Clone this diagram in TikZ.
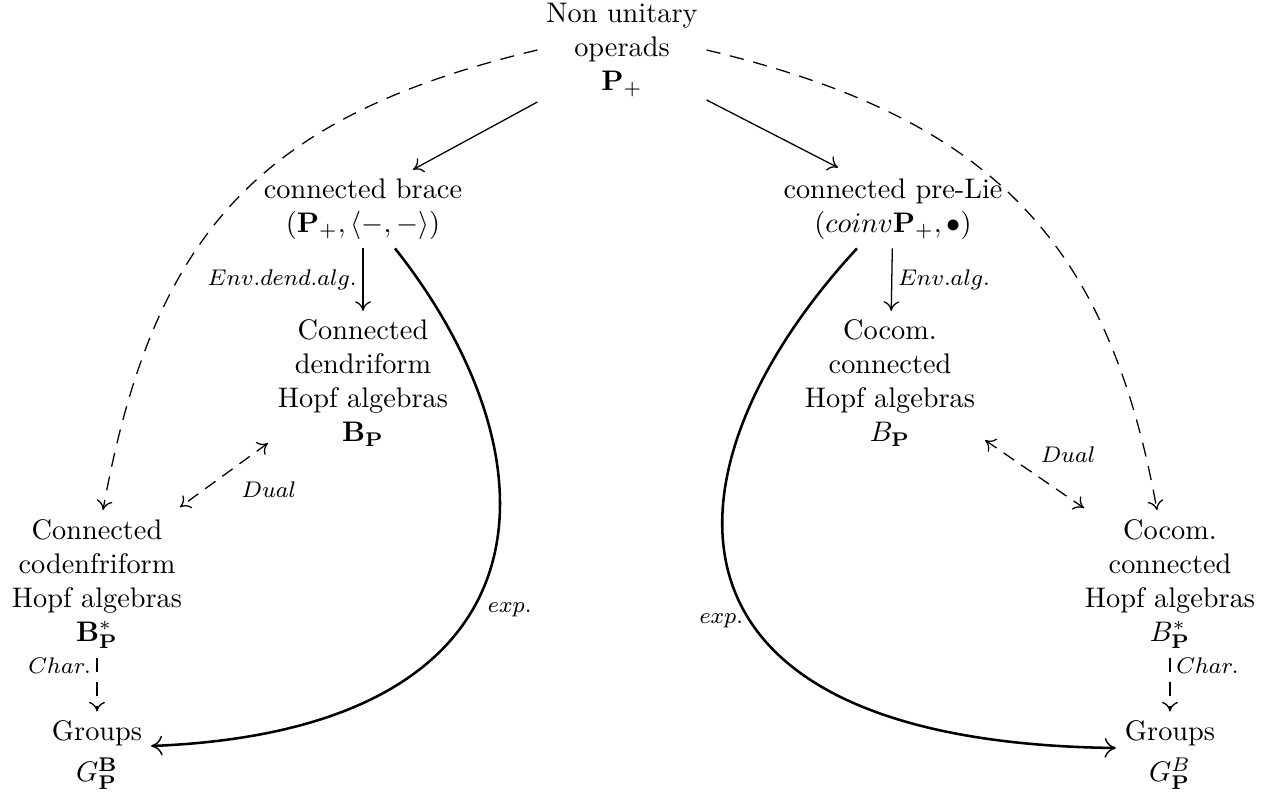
\documentclass[tikz,border=0pt]{standalone}
\usetikzlibrary{calc,arrows.meta}
\begin{document}
\begin{tikzpicture}[x=0.3533pt,y=-0.3533pt,
  >={To[length=3.4pt,width=5.6pt]},
  box/.style={align=center,inner sep=3pt},
  lab/.style={font=\footnotesize,inner sep=2pt},
  solarrow/.style={line width=0.45pt,->},
  dasharrow/.style={line width=0.45pt,->,dash pattern=on 5pt off 3.5pt},
  dualarrow/.style={line width=0.45pt,<->,dash pattern=on 4.5pt off 3pt},
  exparrow/.style={line width=0.9pt,-{To[line width=0.5pt,length=4pt,width=7pt]}}]
\useasboundingbox (0,0) rectangle (1272,793);
\node[box] (top) at (622,50) {Non unitary\\operads\\$\mathbf{P}_+$};
\node[box] (brace) at (363,209) {connected brace\\$(\mathbf{P}_+,\langle -,-\rangle)$};
\node[box] (prelie) at (893,209) {connected pre-Lie\\$(coinv\mathbf{P}_+,\bullet)$};
\node[box] (dend) at (363,383) {Connected\\dendriform\\Hopf algebras\\$\mathbf{B}_{\mathbf{P}}$};
\node[box] (cocomA) at (890,383) {Cocom.\\connected\\Hopf algebras\\$B_{\mathbf{P}}$};
\node[box] (codend) at (97,584) {Connected\\codenfriform\\Hopf algebras\\$\mathbf{B}^*_{\mathbf{P}}$};
\node[box] (cocomB) at (1170,584) {Cocom.\\connected\\Hopf algebras\\$B^*_{\mathbf{P}}$};
\node[box] (gl) at (97,755) {Groups\\[2.5pt]$G^{\mathbf{B}}_{\mathbf{P}}$};
\node[box] (gr) at (1170,755) {Groups\\[2.5pt]$G^{B}_{\mathbf{P}}$};
\draw[solarrow] ($(top.south west)+(0,-4)$) -- ($(brace.north)+(50,0)$);
\draw[solarrow] ($(top.south east)+(0,-6)$) -- ($(prelie.north)+(-55,-2)$);
\draw[solarrow] (brace) -- node[lab,left] {$Env.dend.alg.$} (dend);
\draw[solarrow] (prelie) -- node[lab,right] {$Env.alg.$} (cocomA);
\draw[dasharrow] (top.west) .. controls +(-280,67) and +(50,-275) .. ($(codend.north)+(6,0)$);
\draw[dasharrow] (top.east) .. controls +(280,67) and +(-50,-275) .. ($(cocomB.north)+(-13,0)$);
\draw[dualarrow] ($(dend.south)+(-95,-12)$) -- node[lab,anchor=north west,xshift=4pt] {$Dual$} ($(codend.north)+(83,-3)$);
\draw[dualarrow] ($(cocomA.south)+(95,-15)$) -- node[lab,anchor=south west,yshift=2pt] {$Dual$} ($(cocomB.north)+(-86,-2)$);
\draw[dasharrow] (codend) -- node[lab,left,pos=0.14] {$Char.$} (gl);
\draw[dasharrow] (cocomB) -- node[lab,right,pos=0.14] {$Char.$} (gr);
\draw[exparrow] ($(brace.south)+(32,0)$) .. controls +(168,212) and +(410,-16) .. node[lab,pos=0.57,right,xshift=3pt] {$exp.$} ($(gl.east)+(0,-9)$);
\draw[exparrow] ($(prelie.south)+(-36,0)$) .. controls +(-197,213) and +(-488,-6) .. node[lab,pos=0.58,left] {$exp.$} ($(gr.west)+(0,-7)$);
\end{tikzpicture}
\end{document}
